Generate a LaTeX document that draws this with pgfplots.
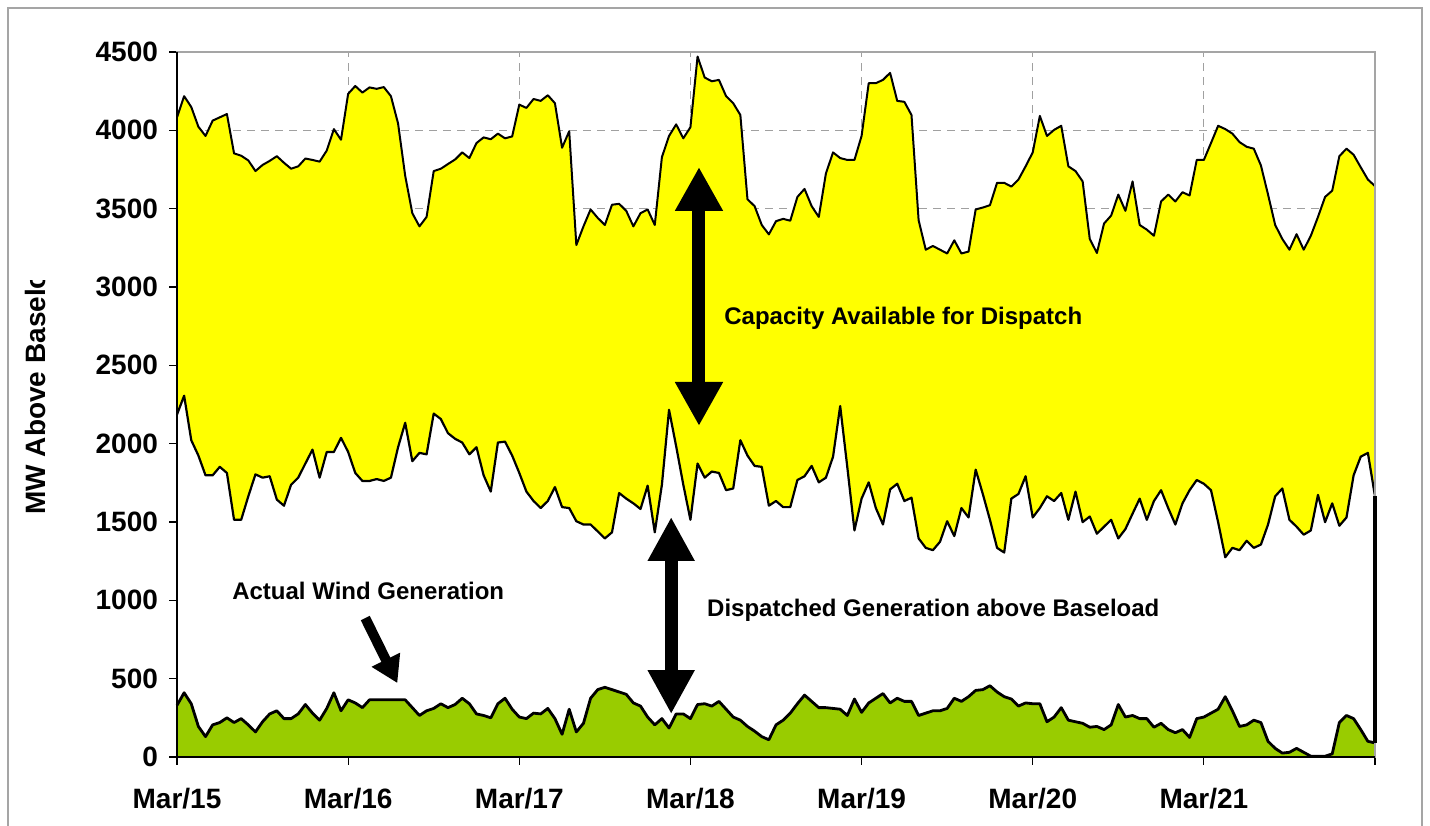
\documentclass[border=0pt]{standalone}
\usepackage{fontspec}
\setmainfont{Liberation Sans}
\usepackage{pgfplots}
\pgfplotsset{compat=1.18}
\usepackage{pgfplotstable}
\usetikzlibrary{arrows.meta}
\definecolor{capyellow}{RGB}{255,255,0}
\definecolor{windgreen}{RGB}{153,204,0}
\definecolor{gridgray}{RGB}{160,160,160}
\definecolor{framegray}{RGB}{165,165,165}

\pgfplotstableread{
h up low wind
0 4083 2186 330
1 4218 2306 410
2 4149 2022 340
3 4023 1924 195
4 3964 1798 130
5 4062 1798 205
6 4083 1852 220
7 4104 1813 250
8 3853 1514 220
9 3838 1514 245
10 3808 1664 205
11 3740 1804 160
12 3779 1783 225
13 3805 1792 275
14 3835 1643 295
15 3793 1604 245
16 3755 1738 245
17 3770 1783 275
18 3820 1873 335
19 3811 1962 280
20 3800 1783 235
21 3871 1947 310
22 4008 1947 410
23 3940 2037 295
24 4233 1947 365
25 4283 1813 345
26 4241 1762 315
27 4274 1762 365
28 4265 1774 365
29 4276 1762 365
30 4218 1783 365
31 4044 1977 365
32 3710 2133 365
33 3471 1888 315
34 3387 1941 265
35 3447 1932 295
36 3740 2192 310
37 3755 2157 340
38 3785 2067 315
39 3814 2031 335
40 3859 2007 375
41 3823 1932 340
42 3919 1977 275
43 3955 1798 265
44 3943 1694 250
45 3979 2007 340
46 3949 2013 375
47 3961 1924 305
48 4164 1813 255
49 4143 1694 245
50 4200 1634 280
51 4188 1589 275
52 4224 1634 310
53 4173 1723 245
54 3889 1595 145
55 3994 1589 305
56 3268 1505 160
57 3387 1484 215
58 3495 1484 375
59 3441 1440 430
60 3396 1395 445
61 3525 1434 430
62 3531 1685 415
63 3486 1649 400
64 3387 1619 345
65 3471 1583 325
66 3495 1732 255
67 3396 1434 205
68 3829 1738 245
69 3964 2216 185
70 4038 1983 275
71 3949 1738 275
72 4020 1514 245
73 4471 1873 335
74 4337 1783 340
75 4313 1822 325
76 4322 1813 355
77 4218 1703 305
78 4173 1714 255
79 4098 2022 235
80 3560 1924 195
81 3516 1858 165
82 3396 1852 130
83 3336 1604 110
84 3420 1634 205
85 3435 1595 235
86 3423 1595 280
87 3575 1768 340
88 3626 1792 395
89 3516 1858 355
90 3447 1753 315
91 3725 1783 315
92 3859 1917 310
93 3823 2240 305
94 3811 1850 265
95 3811 1446 370
96 3964 1649 285
97 4301 1753 345
98 4301 1589 375
99 4322 1484 405
100 4367 1708 345
101 4188 1744 375
102 4182 1634 355
103 4098 1655 355
104 3426 1395 265
105 3238 1335 280
106 3262 1320 295
107 3238 1374 295
108 3214 1505 310
109 3298 1410 375
110 3214 1589 355
111 3226 1529 385
112 3495 1834 425
113 3507 1679 430
114 3522 1514 455
115 3665 1335 415
116 3665 1305 385
117 3641 1649 370
118 3686 1679 325
119 3770 1792 345
120 3859 1529 340
121 4092 1589 340
122 3964 1664 225
123 4003 1634 255
124 4029 1685 315
125 3770 1514 235
126 3740 1694 225
127 3674 1499 215
128 3307 1535 190
129 3217 1425 195
130 3405 1470 175
131 3456 1514 205
132 3590 1395 335
133 3486 1455 255
134 3674 1553 265
135 3396 1649 245
136 3366 1514 245
137 3327 1634 190
138 3546 1703 215
139 3590 1589 175
140 3546 1484 155
141 3605 1619 175
142 3584 1703 125
143 3811 1768 245
144 3811 1744 255
145 3919 1703 280
146 4029 1499 305
147 4008 1275 385
148 3979 1335 295
149 3925 1320 195
150 3895 1380 205
151 3883 1335 235
152 3776 1356 220
153 3590 1484 100
154 3396 1664 55
155 3307 1714 25
156 3238 1514 30
157 3337 1470 55
158 3238 1419 30
159 3327 1446 5
160 3447 1673 5
161 3575 1499 5
162 3615 1619 20
163 3835 1476 220
164 3883 1529 265
165 3844 1798 245
166 3764 1917 175
167 3686 1941 100
168 3644 1664 90
}\capdata

\begin{document}
\begin{tikzpicture}[x=1pt,y=1pt]
\begin{axis}[
  at={(88.5pt,34pt)}, anchor=south west,
  scale only axis, width=599pt, height=352.5pt,
  xmin=0, xmax=168, ymin=0, ymax=4500,
  xtick={0,24,...,168},
  xticklabels={Mar/15,Mar/16,Mar/17,Mar/18,Mar/19,Mar/20,Mar/21,{}},
  ytick={0,500,...,4500},
  ymajorgrids, xmajorgrids,
  major grid style={gridgray, dash pattern=on 4pt off 3pt, line width=0.5pt},
  axis line style={framegray, line width=0.7pt},
  tick align=outside, major tick length=4pt,
  tick style={black, line width=0.6pt},
  xtick pos=bottom, ytick pos=left,
  ticklabel style={font=\fontsize{14}{16}\selectfont\bfseries},
  xticklabel style={yshift=-8pt},
  yticklabel style={xshift=-2pt},
  /pgf/number format/assume math mode=true,
  /pgf/number format/1000 sep={},
  clip=false,
]
\addplot[draw=none, fill=capyellow] table[x=h,y=up]{\capdata} \closedcycle;
\addplot[draw=none, fill=white] table[x=h,y=low]{\capdata} \closedcycle;
\addplot[draw=none, fill=windgreen] table[x=h,y=wind]{\capdata} \closedcycle;
\addplot[black, line width=1pt, line join=round] table[x=h,y=up]{\capdata};
\addplot[black, line width=1.1pt, line join=round] table[x=h,y=low]{\capdata};
\addplot[black, line width=1.4pt, line join=round] table[x=h,y=wind]{\capdata};

\draw[framegray, line width=0.7pt] (rel axis cs:0,1) -- (rel axis cs:1,1) -- (rel axis cs:1,0);
\draw[black, line width=0.8pt] (rel axis cs:0,1) -- (rel axis cs:0,0) -- (rel axis cs:1,0);

\addplot[black, line width=1.8pt] coordinates {(168,1664) (168,90)};
\addplot[black, line width=1.4pt] coordinates {(0,2186) (0,330)};

\draw[line width=6.5pt, {Triangle[width=22.5pt,length=22pt]}-{Triangle[width=22.5pt,length=22pt]}]
  (axis cs:73.2,3766) -- (axis cs:73.2,2113);
\draw[line width=6.5pt, {Triangle[width=22pt,length=22pt]}-{Triangle[width=22pt,length=22pt]}]
  (axis cs:69.3,1532) -- (axis cs:69.3,274);
\draw[line width=5pt, -{Triangle[width=15pt,length=13pt]}]
  (axis cs:26.4,887) -- (axis cs:30.9,472);

\node[anchor=west, inner sep=0, font=\fontsize{12}{14}\selectfont\bfseries] at (axis cs:76.7,2800) {Capacity Available for Dispatch};
\node[anchor=west, inner sep=0, font=\fontsize{12}{14}\selectfont\bfseries] at (axis cs:74.3,938) {Dispatched Generation above Baseload};
\node[anchor=west, inner sep=0, font=\fontsize{12}{14}\selectfont\bfseries] at (axis cs:7.7,1060) {Actual Wind Generation};
\end{axis}

\begin{scope}
\clip (0,0) rectangle (60pt,272pt);
\node[rotate=90, anchor=base west, inner sep=0, font=\fontsize{14}{16}\selectfont\bfseries] at (22.5pt,155pt) {MW Above Baseload};
\end{scope}

\draw[framegray, line width=0.7pt] (4pt,-20pt) rectangle (711pt,408.5pt);

\pgfresetboundingbox
\useasboundingbox (0,0) rectangle (715pt,412.5pt);
\end{tikzpicture}
\end{document}
